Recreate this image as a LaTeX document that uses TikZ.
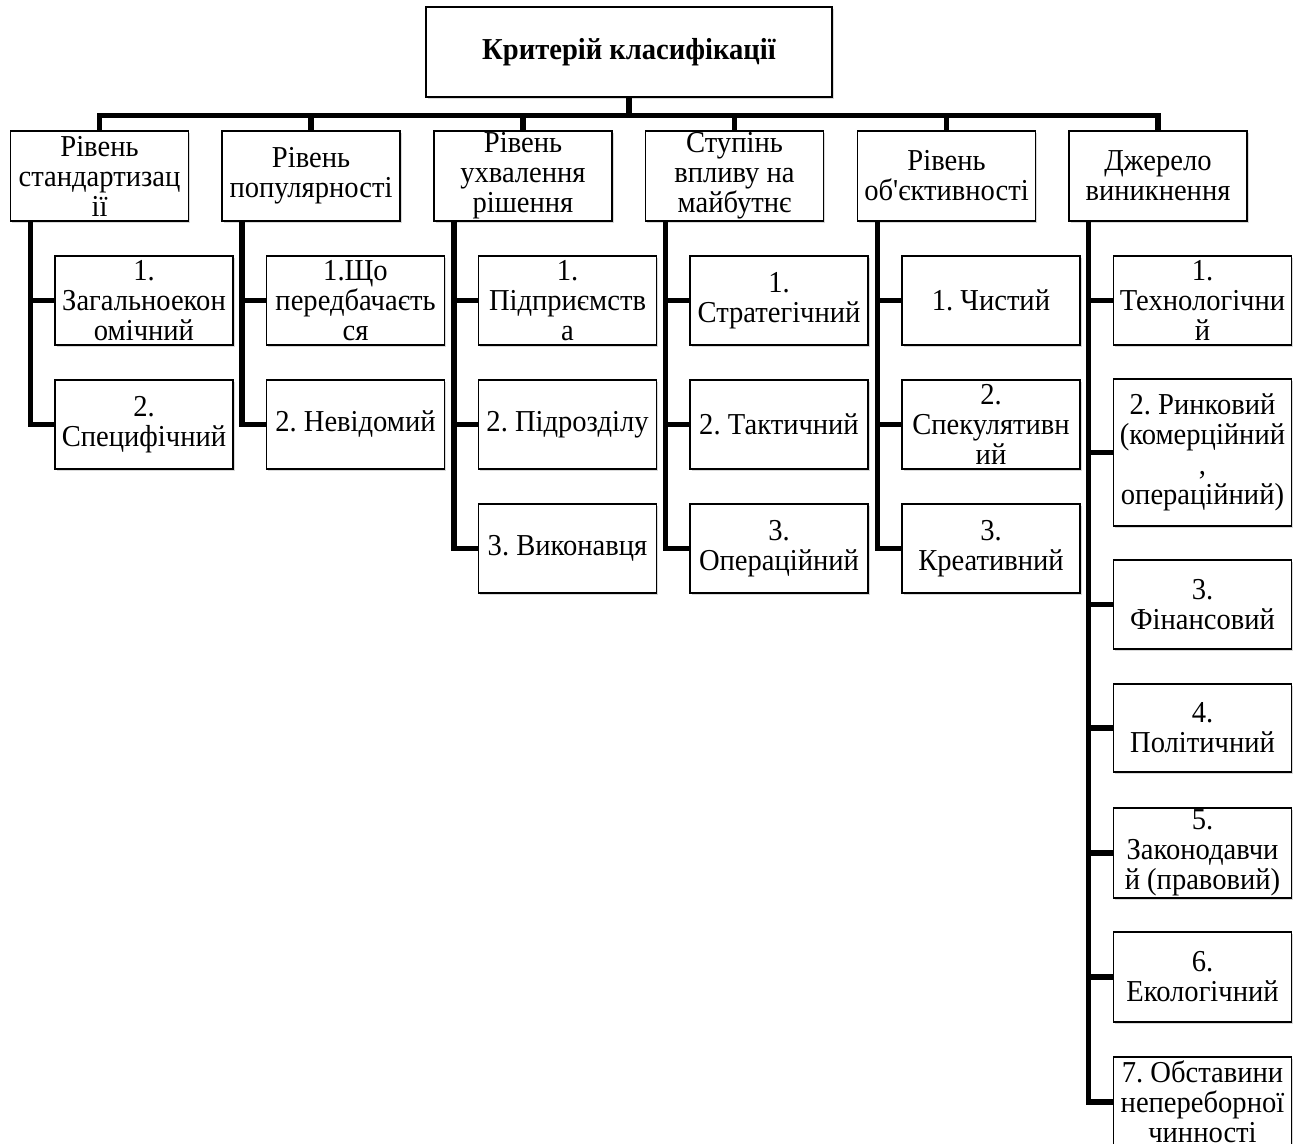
\documentclass[tikz,border=0pt]{standalone}
\usepackage{fontspec}
\setmainfont{Liberation Serif}[FakeStretch=0.94]
\newfontfamily\aposfont{Liberation Serif}[FakeStretch=0.94]
\usetikzlibrary{shadows}
\frenchspacing
\begin{document}
\begin{tikzpicture}[x=0.75pt,y=-0.75pt,
  box/.style={draw, line width=1.1pt, fill=white, inner sep=0pt, align=center,
    minimum width=133.5pt, minimum height=66.75pt,
    font=\fontsize{22.8pt}{22.5pt}\selectfont,
    drop shadow={shadow xshift=1.2pt, shadow yshift=-1.4pt, opacity=0.3}},
  lone/.style={box, minimum height=67.5pt},
  conn/.style={line width=4.1pt, line join=miter}]
\useasboundingbox (0,0) rectangle (1303,1144);

% root
\node[box, minimum width=304.5pt, minimum height=67.5pt,
  font=\bfseries\fontsize{22.8pt}{22.5pt}\selectfont] (root) at (629,52) {Критерій класифікації};

% level 1
\node[lone] (l1) at (99.5,176) {Рівень\\стандартизац\\ії};
\node[lone] (l2) at (311,176) {Рівень\\популярності};
\node[lone] (l3) at (523,176) {Рівень\\ухвалення\\рішення};
\node[lone] (l4) at (734.5,176) {Ступінь\\впливу на\\майбутнє};
\node[lone] (l5) at (946.5,176) {Рівень\\об{\aposfont'}єктивності};
\node[lone] (l6) at (1158,176) {Джерело\\виникнення};

\coordinate (bus) at (629,115.5);
\foreach \k in {1,...,6}{\draw[conn] (root.south) -- (bus) -| (l\k.north);}

% column stems
\coordinate (s1) at (30.5,221);
\coordinate (s2) at (242,221);
\coordinate (s3) at (454,221);
\coordinate (s4) at (665.5,221);
\coordinate (s5) at (877.5,221);
\coordinate (s6) at (1088.5,221);

% column 1
\node[box] (c11) at (144,300.5) {1.\\Загальноекон\\омічний};
\node[box] (c12) at (144,424.5) {2.\\Специфічний};
% column 2
\node[box] (c21) at (355.5,300.5) {1.Що\\передбачаєть\\ся};
\node[box] (c22) at (355.5,424.5) {2. Невідомий};
% column 3
\node[box] (c31) at (567.5,300.5) {1.\\Підприємств\\а};
\node[box] (c32) at (567.5,424.5) {2. Підрозділу};
\node[box] (c33) at (567.5,548.5) {3. Виконавця};
% column 4
\node[box] (c41) at (779,300.5) {1.\\Стратегічний};
\node[box] (c42) at (779,424.5) {2. Тактичний};
\node[box] (c43) at (779,548.5) {3.\\Операційний};
% column 5
\node[box] (c51) at (991,300.5) {1. Чистий};
\node[box] (c52) at (991,424.5) {2.\\Спекулятивн\\ий};
\node[box] (c53) at (991,548.5) {3.\\Креативний};
% column 6
\node[box] (c61) at (1202.5,300.5) {1.\\Технологічни\\й};
\node[box, minimum height=110.25pt] (c62) at (1202.5,452.5) {2. Ринковий\\(комерційний\\,\\операційний)};
\node[box] (c63) at (1202.5,604.5) {3.\\Фінансовий};
\node[box, minimum height=66pt] (c64) at (1202.5,728) {4.\\Політичний};
\node[box, minimum height=67.5pt] (c65) at (1202.5,853) {5.\\Законодавчи\\й (правовий)};
\node[box, minimum height=67.5pt] (c66) at (1202.5,977) {6.\\Екологічний};
\node[box, minimum height=67.5pt] (c67) at (1202.5,1102) {7. Обставини\\непереборної\\чинності};

% connectors
\foreach \c/\n in {1/2,2/2,3/3,4/3,5/3,6/7}{
  \foreach \j in {1,...,\n}{\draw[conn] (s\c) |- (c\c\j.west);}
}
\end{tikzpicture}
\end{document}
